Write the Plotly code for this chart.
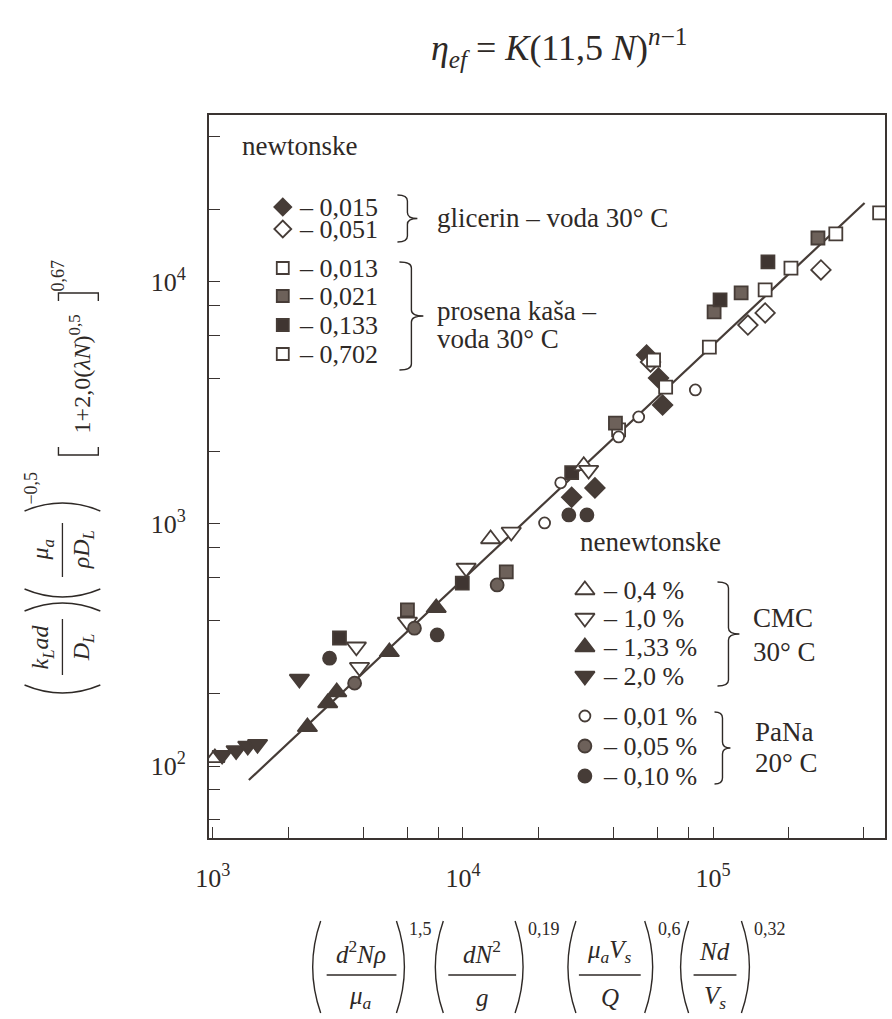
import plotly.graph_objects as go

# ---------------- data ----------------
line_x = [1394, 403000]
line_y = [87.5, 21200]

gl_015_x = [27200, 33700, 54200, 60500, 62800]
gl_015_y = [1290, 1410, 4990, 4010, 3100]
gl_051_x = [56200, 137700, 161400, 269800]
gl_051_y = [4670, 6640, 7450, 11210]
pk_013_x = [41900, 96600, 204700, 463000]
pk_013_y = [2450, 5380, 11400, 19300]
pk_021_x = [6000, 14900, 40700, 100900, 129400, 262400]
pk_021_y = [442, 634, 2610, 7520, 9010, 15200]
pk_133_x = [3210, 9940, 27200, 106600, 165600]
pk_133_y = [338, 570, 1630, 8430, 12100]
pk_702_x = [57800, 64600, 161400, 309300]
pk_702_y = [4760, 3680, 9270, 15800]
cmc_04_x = [1020, 12900, 30400]
cmc_04_y = [108, 867, 1740]
cmc_10_x = [3750, 3860, 6000, 10300, 15600, 31800]
cmc_10_y = [311, 256, 394, 658, 927, 1670]
cmc_133_x = [2390, 2880, 3130, 5080, 7820]
cmc_133_y = [145, 182, 202, 296, 450]
cmc_20_x = [1090, 1240, 1380, 1510, 2220]
cmc_20_y = [111, 116, 121, 123, 229]
pana_001_x = [21200, 24600, 41900, 50400, 84900]
pana_001_y = [1010, 1480, 2290, 2770, 3580]
pana_005_x = [3690, 6400, 13700]
pana_005_y = [220, 371, 560]
pana_010_x = [2930, 7890, 26500, 31300]
pana_010_y = [279, 348, 1090, 1090]

x_tickvals = [1e3, 2e3, 4e3, 6e3, 8e3, 1e4, 2e4, 4e4, 6e4, 8e4, 1e5, 2e5, 4e5]
x_ticktext = ["10<sup>3</sup>", "", "", "", "", "10<sup>4</sup>", "", "", "", "", "10<sup>5</sup>", "", ""]
y_tickvals = [60, 80, 1e2, 2e2, 4e2, 6e2, 8e2, 1e3, 2e3, 4e3, 6e3, 8e3, 1e4, 2e4, 4e4]
y_ticktext = ["", "", "10<sup>2</sup>", "", "", "", "", "10<sup>3</sup>", "", "", "", "", "10<sup>4</sup>", "", ""]

legend_newt = ["– 0,015", "– 0,051", "– 0,013", "– 0,021", "– 0,133", "– 0,702"]
legend_nonnewt = ["– 0,4 %", "– 1,0 %", "– 1,33 %", "– 2,0 %", "– 0,01 %", "– 0,05 %", "– 0,10 %"]

# ---------------- styling / layout constants ----------------
W, H = 892, 1019
L, R, T, B = 209, 887, 115, 838
INK = "#463c37"
DARK = "#3f3531"
MID = "#6d615a"
TXT = "#2e2926"
FONT = "Liberation Serif"


def PX(x):
    return (x - L) / (R - L)


def PY(y):
    return (B - y) / (B - T)


fig = go.Figure()

fig.add_trace(go.Scatter(x=line_x, y=line_y, mode="lines",
                         line=dict(color=INK, width=2.2),
                         showlegend=False, hoverinfo="skip"))

series = [
    (gl_015_x, gl_015_y, "diamond", INK, 15),
    (gl_051_x, gl_051_y, "diamond", "white", 15),
    (pk_013_x, pk_013_y, "square", "white", 13),
    (pk_021_x, pk_021_y, "square", MID, 13),
    (pk_133_x, pk_133_y, "square", DARK, 13),
    (pk_702_x, pk_702_y, "square", "white", 13),
    (cmc_04_x, cmc_04_y, "triangle-up", "white", 17),
    (cmc_10_x, cmc_10_y, "triangle-down", "white", 17),
    (cmc_133_x, cmc_133_y, "triangle-up", INK, 17),
    (cmc_20_x, cmc_20_y, "triangle-down", INK, 17),
    (pana_001_x, pana_001_y, "circle", "white", 11),
    (pana_005_x, pana_005_y, "circle", MID, 13),
    (pana_010_x, pana_010_y, "circle", INK, 13),
]

for xs, ys, sym, fill, size in series:
    fig.add_trace(go.Scatter(
        x=xs, y=ys, mode="markers", showlegend=False, hoverinfo="skip",
        marker=dict(symbol=sym, size=size, color=fill,
                    line=dict(color=INK, width=1.8))))

# legend keys (placed on a pixel-like overlay axis)
key_newt_x, key_newt_y = 283, [207, 229, 268, 296, 325, 354]
key_nn_x, key_nn_y = 586, [590, 618, 647, 676, 716, 746, 776]
for i, (xs, ys, sym, fill, size) in enumerate(series):
    if i < 6:
        kx, ky = key_newt_x, key_newt_y[i]
        ks = 13 if sym == "diamond" else 12
    else:
        kx, ky = key_nn_x, key_nn_y[i - 6]
        ks = size
    fig.add_trace(go.Scatter(
        x=[kx], y=[ky], xaxis="x2", yaxis="y2", mode="markers",
        showlegend=False, hoverinfo="skip",
        marker=dict(symbol=sym, size=ks, color=fill,
                    line=dict(color=INK, width=1.8))))

ann = []
shapes = []


def text(px, py, s, size=26, xanchor="center", angle=0, yanchor="middle"):
    ann.append(dict(x=PX(px), y=PY(py), xref="paper", yref="paper", text=s,
                    showarrow=False, xanchor=xanchor, yanchor=yanchor,
                    textangle=angle,
                    font=dict(family=FONT, size=size, color=TXT)))


def path(pts_str):
    shapes.append(dict(type="path", xref="paper", yref="paper", path=pts_str,
                       line=dict(color=TXT, width=1.4)))


def P(x, y):
    return f"{PX(x):.5f},{PY(y):.5f}"


def brace(x0, ytop, ybot, w):
    xm = x0 + w * 0.5
    ym = (ytop + ybot) / 2
    r = 6
    s = (f"M {P(x0, ytop)} Q {P(xm, ytop)} {P(xm, ytop + r)} "
         f"L {P(xm, ym - r)} Q {P(xm, ym)} {P(x0 + w, ym)} "
         f"Q {P(xm, ym)} {P(xm, ym + r)} L {P(xm, ybot - r)} "
         f"Q {P(xm, ybot)} {P(x0, ybot)}")
    path(s)


def hline(x0, x1, y):
    shapes.append(dict(type="line", xref="paper", yref="paper",
                       x0=PX(x0), x1=PX(x1), y0=PY(y), y1=PY(y),
                       line=dict(color=TXT, width=1.3)))


def vline(x, y0, y1):
    shapes.append(dict(type="line", xref="paper", yref="paper",
                       x0=PX(x), x1=PX(x), y0=PY(y0), y1=PY(y1),
                       line=dict(color=TXT, width=1.3)))


# ---- title formula ----
text(560, 48, "<i>η</i><sub><i>ef</i></sub> = <i>K</i>(11,5 <i>N</i>)<sup><i>n</i>−1</sup>", size=36)

# ---- legend: newtonian ----
text(240, 146, "newtonske", xanchor="left", size=27)
for lbl, ky in zip(legend_newt, key_newt_y):
    text(297, ky, lbl, xanchor="left")
brace(398, 195, 242, 20)
text(436, 218, "glicerin – voda 30° C", xanchor="left", size=27)
brace(400, 262, 370, 24)
text(436, 311, "prosena kaša –", xanchor="left", size=27)
text(436, 339, "voda 30° C", xanchor="left", size=27)

# ---- legend: non-newtonian ----
text(579, 542, "nenewtonske", xanchor="left", size=27)
for lbl, ky in zip(legend_nonnewt, key_nn_y):
    text(602, ky, lbl, xanchor="left")
brace(719, 582, 686, 22)
text(753, 618, "CMC", xanchor="left", size=27)
text(753, 652, "30° C", xanchor="left", size=27)
brace(716, 712, 784, 16)
text(755, 732, "PaNa", xanchor="left", size=27)
text(755, 763, "20° C", xanchor="left", size=27)

# ---- x-axis title formula ----
xgroups = [
    (313, 405, 361, 327, 397, "<i>d</i><sup>2</sup><i>Nρ</i>", "<i>μ<sub>a</sub></i>", "1,5"),
    (436, 524, 483, 449, 517, "<i>dN</i><sup>2</sup>", "<i>g</i>", "0,19"),
    (569, 654, 611, 580, 642, "<i>μ<sub>a</sub>V<sub>s</sub></i>", "<i>Q</i>", "0,6"),
    (682, 751, 716, 695, 738, "<i>Nd</i>", "<i>V<sub>s</sub></i>", "0,32"),
]
for pl, pr, cx, b0, b1, num, den, ex in xgroups:
    path(f"M {P(pl + 8, 921)} Q {P(pl - 8, 967)} {P(pl + 8, 1013)}")
    path(f"M {P(pr - 8, 921)} Q {P(pr + 8, 967)} {P(pr - 8, 1013)}")
    text(cx, 952, num, size=25)
    hline(b0, b1, 975)
    text(cx, 997, den, size=25)
    text(pr + 3, 929, ex, size=18, xanchor="left")

# ---- y-axis title formula (rotated) ----
ygroups = [
    (693, 603, 647, 619, 675, "<i>k<sub>L</sub>ad</i>", "<i>D<sub>L</sub></i>"),
    (597, 503, 550, 523, 577, "<i>μ<sub>a</sub></i>", "<i>ρD<sub>L</sub></i>"),
]
for pb, pt, cy, b0, b1, num, den in ygroups:
    path(f"M {P(24, pb - 8)} Q {P(62, pb + 8)} {P(100, pb - 8)}")
    path(f"M {P(24, pt + 8)} Q {P(62, pt - 8)} {P(100, pt + 8)}")
    text(42, cy, num, size=24, angle=-90)
    vline(62, b0, b1)
    text(83, cy, den, size=24, angle=-90)
text(30, 488, "−0,5", size=18, angle=-90)
path(f"M {P(58, 447)} L {P(58, 455)} L {P(98, 455)} L {P(98, 447)}")
path(f"M {P(58, 301)} L {P(58, 293)} L {P(98, 293)} L {P(98, 301)}")
text(80, 374, "1+2,0(<i>λN</i>)<sup>0,5</sup>", size=24, angle=-90)
text(58, 275, "0,67", size=18, angle=-90)

axis_common = dict(type="log", showline=True, linecolor="#3a3431", linewidth=1.8,
                   mirror=True, ticks="inside", ticklen=11, tickwidth=1.4,
                   tickcolor="#3a3431", showgrid=False, zeroline=False,
                   tickfont=dict(family=FONT, size=26, color=TXT))

fig.update_layout(
    width=W, height=H,
    margin=dict(l=L, r=W - R, t=T, b=H - B),
    paper_bgcolor="white", plot_bgcolor="white",
    xaxis=dict(range=[2.985, 5.687], tickvals=x_tickvals, ticktext=x_ticktext,
               ticklabelstandoff=16, **axis_common),
    yaxis=dict(range=[1.7025, 4.690], tickvals=y_tickvals, ticktext=y_ticktext,
               ticklabelstandoff=16, **axis_common),
    xaxis2=dict(overlaying="x", anchor="y2", range=[L, R], visible=False),
    yaxis2=dict(overlaying="y", anchor="x2", range=[B, T], visible=False),
    annotations=ann, shapes=shapes, showlegend=False,
)

fig.write_html("out.html")
